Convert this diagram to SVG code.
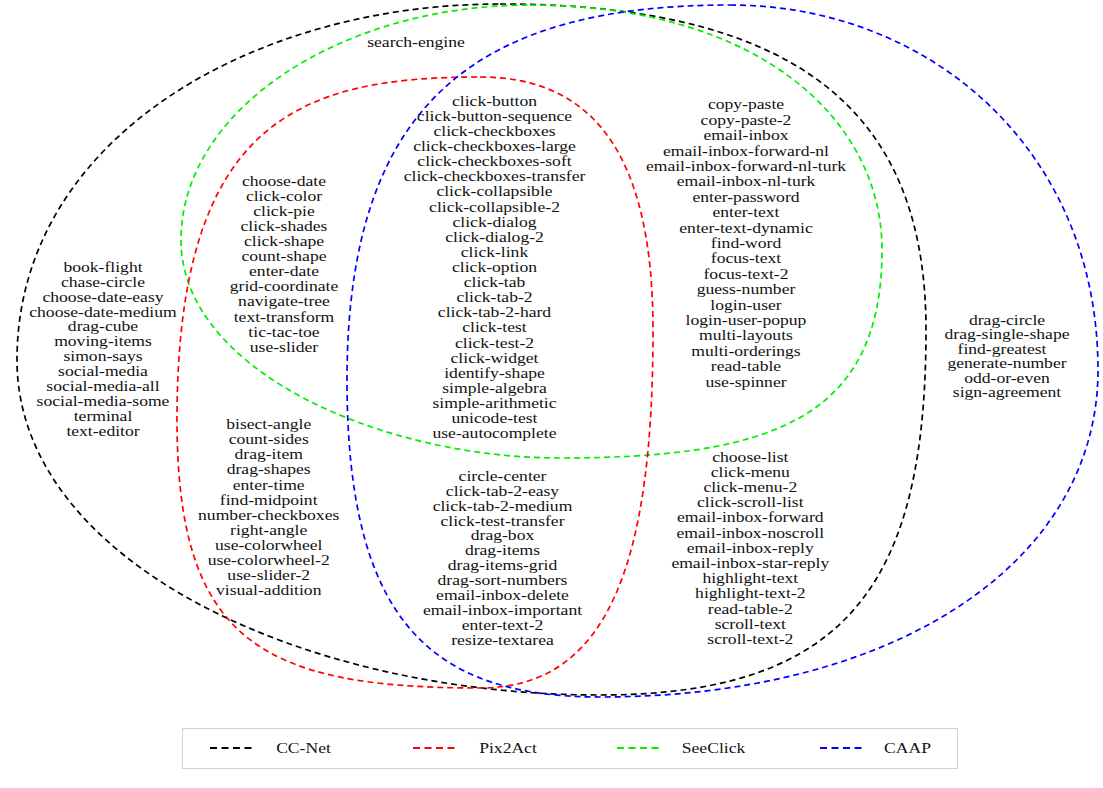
<svg xmlns="http://www.w3.org/2000/svg" width="1103" height="788" viewBox="0 0 1103 788">
<style>
.set{fill:none;stroke-width:1.7;stroke-dasharray:6 4}
.k{stroke:#000}.r{stroke:#ff0000}.g{stroke:#00ee00}.b{stroke:#0000ff}
text{font-family:"Liberation Serif","Times New Roman",serif;font-size:14.5px;fill:#111;text-anchor:middle}
.sm{font-size:14px}
.leg{fill:none;stroke-width:1.8;stroke-dasharray:7 4.5}
</style>
<rect width="1103" height="788" fill="#fff"/>
<g id="sets">
<g id="set-ccnet"><path class="set k" d="M500,4 C820,4 926,130 926,330 C926,580 850,695 600,695 C300,695 17,560 17,360 C17,140 250,4 500,4 Z"/></g>
<g id="set-seeclick"><path class="set g" d="M530,5 C760,5 882,120 882,250 C882,420 770,458 560,458 C380,458 181,370 181,240 C181,110 340,5 530,5 Z"/></g>
<g id="set-pix2act"><path class="set r" d="M480,77 C590,77 653,150 653,330 C653,560 610,688 480,688 C260,688 177,640 177,420 C177,120 300,77 480,77 Z"/></g>
<g id="set-caap"><path class="set b" d="M730,5 C930,5 1098,150 1098,370 C1098,560 900,697 600,697 C430,697 347,620 347,380 C347,100 480,5 730,5 Z"/></g>
</g>
<g id="connectors"></g>
<g id="label-search-engine" transform="translate(416 0) scale(1.214 1)"><text x="0" y="47">search-engine</text></g>
<g id="region-ccnet-only" transform="translate(103 0) scale(1.214 1)"><text y="271.7"><tspan x="0">book-flight</tspan><tspan x="0" dy="14.94">chase-circle</tspan><tspan x="0" dy="14.94">choose-date-easy</tspan><tspan x="0" dy="14.94">choose-date-medium</tspan><tspan x="0" dy="14.94">drag-cube</tspan><tspan x="0" dy="14.94">moving-items</tspan><tspan x="0" dy="14.94">simon-says</tspan><tspan x="0" dy="14.94">social-media</tspan><tspan x="0" dy="14.94">social-media-all</tspan><tspan x="0" dy="14.94">social-media-some</tspan><tspan x="0" dy="14.94">terminal</tspan><tspan x="0" dy="14.94">text-editor</tspan></text></g>
<g id="region-ccnet-pix2act-seeclick" transform="translate(284 0) scale(1.214 1)"><text y="186"><tspan x="0">choose-date</tspan><tspan x="0" dy="15.06">click-color</tspan><tspan x="0" dy="15.06">click-pie</tspan><tspan x="0" dy="15.06">click-shades</tspan><tspan x="0" dy="15.06">click-shape</tspan><tspan x="0" dy="15.06">count-shape</tspan><tspan x="0" dy="15.06">enter-date</tspan><tspan x="0" dy="15.06">grid-coordinate</tspan><tspan x="0" dy="15.06">navigate-tree</tspan><tspan x="0" dy="15.06">text-transform</tspan><tspan x="0" dy="15.06">tic-tac-toe</tspan><tspan x="0" dy="15.06">use-slider</tspan></text></g>
<g id="region-all-four" transform="translate(494.5 0) scale(1.214 1)"><text y="105.7"><tspan x="0">click-button</tspan><tspan x="0" dy="15.12">click-button-sequence</tspan><tspan x="0" dy="15.12">click-checkboxes</tspan><tspan x="0" dy="15.12">click-checkboxes-large</tspan><tspan x="0" dy="15.12">click-checkboxes-soft</tspan><tspan x="0" dy="15.12">click-checkboxes-transfer</tspan><tspan x="0" dy="15.12">click-collapsible</tspan><tspan x="0" dy="15.12">click-collapsible-2</tspan><tspan x="0" dy="15.12">click-dialog</tspan><tspan x="0" dy="15.12">click-dialog-2</tspan><tspan x="0" dy="15.12">click-link</tspan><tspan x="0" dy="15.12">click-option</tspan><tspan x="0" dy="15.12">click-tab</tspan><tspan x="0" dy="15.12">click-tab-2</tspan><tspan x="0" dy="15.12">click-tab-2-hard</tspan><tspan x="0" dy="15.12">click-test</tspan><tspan x="0" dy="15.12">click-test-2</tspan><tspan x="0" dy="15.12">click-widget</tspan><tspan x="0" dy="15.12">identify-shape</tspan><tspan x="0" dy="15.12">simple-algebra</tspan><tspan x="0" dy="15.12">simple-arithmetic</tspan><tspan x="0" dy="15.12">unicode-test</tspan><tspan x="0" dy="15.12">use-autocomplete</tspan></text></g>
<g id="region-ccnet-seeclick-caap" transform="translate(746 0) scale(1.214 1)"><text y="109.3"><tspan x="0">copy-paste</tspan><tspan x="0" dy="15.41">copy-paste-2</tspan><tspan x="0" dy="15.41">email-inbox</tspan><tspan x="0" dy="15.41">email-inbox-forward-nl</tspan><tspan x="0" dy="15.41">email-inbox-forward-nl-turk</tspan><tspan x="0" dy="15.41">email-inbox-nl-turk</tspan><tspan x="0" dy="15.41">enter-password</tspan><tspan x="0" dy="15.41">enter-text</tspan><tspan x="0" dy="15.41">enter-text-dynamic</tspan><tspan x="0" dy="15.41">find-word</tspan><tspan x="0" dy="15.41">focus-text</tspan><tspan x="0" dy="15.41">focus-text-2</tspan><tspan x="0" dy="15.41">guess-number</tspan><tspan x="0" dy="15.41">login-user</tspan><tspan x="0" dy="15.41">login-user-popup</tspan><tspan x="0" dy="15.41">multi-layouts</tspan><tspan x="0" dy="15.41">multi-orderings</tspan><tspan x="0" dy="15.41">read-table</tspan><tspan x="0" dy="15.41">use-spinner</tspan></text></g>
<g id="region-ccnet-pix2act" transform="translate(268.7 0) scale(1.214 1)"><text y="429.3"><tspan x="0">bisect-angle</tspan><tspan x="0" dy="15.06">count-sides</tspan><tspan x="0" dy="15.06">drag-item</tspan><tspan x="0" dy="15.06">drag-shapes</tspan><tspan x="0" dy="15.06">enter-time</tspan><tspan x="0" dy="15.06">find-midpoint</tspan><tspan x="0" dy="15.06">number-checkboxes</tspan><tspan x="0" dy="15.06">right-angle</tspan><tspan x="0" dy="15.06">use-colorwheel</tspan><tspan x="0" dy="15.06">use-colorwheel-2</tspan><tspan x="0" dy="15.06">use-slider-2</tspan><tspan x="0" dy="15.06">visual-addition</tspan></text></g>
<g id="region-ccnet-pix2act-caap" transform="translate(502.5 0) scale(1.214 1)"><text y="480.7"><tspan x="0">circle-center</tspan><tspan x="0" dy="14.94">click-tab-2-easy</tspan><tspan x="0" dy="14.94">click-tab-2-medium</tspan><tspan x="0" dy="14.94">click-test-transfer</tspan><tspan x="0" dy="14.94">drag-box</tspan><tspan x="0" dy="14.94">drag-items</tspan><tspan x="0" dy="14.94">drag-items-grid</tspan><tspan x="0" dy="14.94">drag-sort-numbers</tspan><tspan x="0" dy="14.94">email-inbox-delete</tspan><tspan x="0" dy="14.94">email-inbox-important</tspan><tspan x="0" dy="14.94">enter-text-2</tspan><tspan x="0" dy="14.94">resize-textarea</tspan></text></g>
<g id="region-ccnet-caap" transform="translate(750.3 0) scale(1.214 1)"><text y="461.7"><tspan x="0">choose-list</tspan><tspan x="0" dy="15.19">click-menu</tspan><tspan x="0" dy="15.19">click-menu-2</tspan><tspan x="0" dy="15.19">click-scroll-list</tspan><tspan x="0" dy="15.19">email-inbox-forward</tspan><tspan x="0" dy="15.19">email-inbox-noscroll</tspan><tspan x="0" dy="15.19">email-inbox-reply</tspan><tspan x="0" dy="15.19">email-inbox-star-reply</tspan><tspan x="0" dy="15.19">highlight-text</tspan><tspan x="0" dy="15.19">highlight-text-2</tspan><tspan x="0" dy="15.19">read-table-2</tspan><tspan x="0" dy="15.19">scroll-text</tspan><tspan x="0" dy="15.19">scroll-text-2</tspan></text></g>
<g id="region-caap-only" transform="translate(1007 0) scale(1.257 1)"><text class="sm" y="325"><tspan x="0">drag-circle</tspan><tspan x="0" dy="14.4">drag-single-shape</tspan><tspan x="-4" dy="14.4">find-greatest</tspan><tspan x="0" dy="14.4">generate-number</tspan><tspan x="0" dy="14.4">odd-or-even</tspan><tspan x="0" dy="14.4">sign-agreement</tspan></text></g>
<g id="legend">
<rect x="182.5" y="728.5" width="775" height="40" fill="#fff" stroke="#d0d0d0" stroke-width="1"/>
<line class="leg k" x1="210" y1="748" x2="253" y2="748"/>
<line class="leg r" x1="413" y1="748" x2="456" y2="748"/>
<line class="leg g" x1="617" y1="748" x2="660" y2="748"/>
<line class="leg b" x1="820" y1="748" x2="863" y2="748"/>
<g transform="translate(303.5 0) scale(1.214 1)"><text x="0" y="753">CC-Net</text></g>
<g transform="translate(508 0) scale(1.214 1)"><text x="0" y="753">Pix2Act</text></g>
<g transform="translate(713.5 0) scale(1.214 1)"><text x="0" y="753">SeeClick</text></g>
<g transform="translate(907.5 0) scale(1.214 1)"><text x="0" y="753">CAAP</text></g>
</g>
</svg>
